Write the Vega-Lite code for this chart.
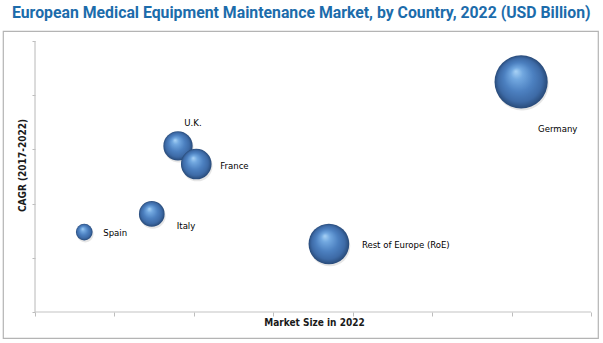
{
  "$schema": "https://vega.github.io/schema/vega-lite/v6.json",
  "width": 595,
  "height": 307,
  "autosize": {"type": "none"},
  "padding": {"left": 3, "top": 31, "right": 5, "bottom": 5},
  "background": "white",
  "config": {
    "view": {"stroke": "#b4b4b4", "strokeWidth": 1.2},
    "font": "DejaVu Sans Condensed, Roboto, sans-serif"
  },
  "title": {
    "text": "European Medical Equipment Maintenance Market, by Country, 2022 (USD Billion)",
    "anchor": "start",
    "font": "Roboto",
    "fontSize": 15.8,
    "fontWeight": "bold",
    "color": "#1c6cab",
    "dx": 9,
    "offset": 9
  },
  "data": {
    "values": [
      {"country": "Spain", "marketSize": 0.62, "cagr": 2.95, "value": 0.28},
      {"country": "Italy", "marketSize": 1.47, "cagr": 3.62, "value": 0.66},
      {"country": "U.K.", "marketSize": 1.8, "cagr": 6.13, "value": 0.86},
      {"country": "France", "marketSize": 2.03, "cagr": 5.46, "value": 0.94},
      {"country": "Rest of Europe (RoE)", "marketSize": 3.7, "cagr": 2.51, "value": 1.66},
      {"country": "Germany", "marketSize": 6.12, "cagr": 8.49, "value": 2.83}
    ]
  },
  "layer": [
    {
      "mark": {"type": "circle", "opacity": 0.15, "color": "#555555", "yOffset": 2, "xOffset": 1},
      "encoding": {
        "x": {
          "field": "marketSize",
          "type": "quantitative",
          "scale": {"domain": [-0.403, 7.088], "nice": false, "zero": false},
          "axis": {
            "title": "Market Size in 2022",
            "values": [0, 1, 2, 3, 4, 5, 6, 7],
            "offset": -26,
            "domain": false,
            "grid": false,
            "labels": false,
            "ticks": true,
            "tickSize": 4,
            "tickColor": "#bdbdbd",
            "titleFont": "DejaVu Sans Condensed, Roboto, sans-serif",
            "titleFontSize": 10,
            "titleFontWeight": "bold",
            "titleColor": "#1a1a1a",
            "titleX": 311,
            "titleY": 5,
            "titleBaseline": "top",
            "titleAlign": "center"
          }
        },
        "y": {
          "field": "cagr",
          "type": "quantitative",
          "scale": {"domain": [-0.959, 10.369], "nice": false, "zero": false},
          "axis": {
            "title": "CAGR (2017-2022)",
            "values": [0, 1, 2, 3, 4, 5, 6, 7, 8, 9, 10],
            "offset": -32,
            "domain": false,
            "grid": false,
            "labels": false,
            "ticks": true,
            "tickSize": 3,
            "tickColor": "#bdbdbd",
            "titleFont": "DejaVu Sans Condensed, Roboto, sans-serif",
            "titleFontSize": 10,
            "titleFontWeight": "bold",
            "titleColor": "#1a1a1a",
            "titleX": -12.5,
            "titleY": 134,
            "titleAngle": -90,
            "titleBaseline": "middle",
            "titleAlign": "center"
          }
        },
        "size": {"field": "value", "type": "quantitative", "scale": {"domain": [0, 2.83], "range": [0, 2827], "zero": true}, "legend": null}
      }
    },
    {
      "data": {"values": [{"x0": 0, "x1": 7, "y0": 0, "y1": 0}, {"x0": 0, "x1": 0, "y0": 0, "y1": 10}]},
      "mark": {"type": "rule", "color": "#c4c4c4", "strokeWidth": 1.2},
      "encoding": {
        "x": {"field": "x0", "type": "quantitative"},
        "x2": {"field": "x1"},
        "y": {"field": "y0", "type": "quantitative"},
        "y2": {"field": "y1"}
      }
    },
    {
      "mark": {
        "type": "circle",
        "opacity": 1,
        "color": {
          "gradient": "radial",
          "x1": 0.4, "y1": 0.3, "r1": 0,
          "x2": 0.5, "y2": 0.5, "r2": 0.5,
          "stops": [
            {"offset": 0, "color": "#a9d3f6"},
            {"offset": 0.22, "color": "#72a8e0"},
            {"offset": 0.55, "color": "#4c80c0"},
            {"offset": 0.82, "color": "#3d6aa6"},
            {"offset": 1, "color": "#284a78"}
          ]
        }
      },
      "encoding": {
        "x": {"field": "marketSize", "type": "quantitative"},
        "y": {"field": "cagr", "type": "quantitative"},
        "size": {"field": "value", "type": "quantitative", "legend": null}
      }
    },
    {
      "transform": [{"filter": "datum.country === 'U.K.'"}],
      "mark": {"type": "text", "align": "center", "dx": 15, "dy": -23, "fontSize": 9.5, "color": "#000000"},
      "encoding": {"x": {"field": "marketSize", "type": "quantitative"}, "y": {"field": "cagr", "type": "quantitative"}, "text": {"field": "country"}}
    },
    {
      "transform": [{"filter": "datum.country === 'France'"}],
      "mark": {"type": "text", "align": "left", "dx": 24, "dy": 2, "fontSize": 9.5, "color": "#000000"},
      "encoding": {"x": {"field": "marketSize", "type": "quantitative"}, "y": {"field": "cagr", "type": "quantitative"}, "text": {"field": "country"}}
    },
    {
      "transform": [{"filter": "datum.country === 'Italy'"}],
      "mark": {"type": "text", "align": "left", "dx": 25, "dy": 12, "fontSize": 9.5, "color": "#000000"},
      "encoding": {"x": {"field": "marketSize", "type": "quantitative"}, "y": {"field": "cagr", "type": "quantitative"}, "text": {"field": "country"}}
    },
    {
      "transform": [{"filter": "datum.country === 'Spain'"}],
      "mark": {"type": "text", "align": "left", "dx": 19, "dy": 1, "fontSize": 9.5, "color": "#000000"},
      "encoding": {"x": {"field": "marketSize", "type": "quantitative"}, "y": {"field": "cagr", "type": "quantitative"}, "text": {"field": "country"}}
    },
    {
      "transform": [{"filter": "datum.country === 'Rest of Europe (RoE)'"}],
      "mark": {"type": "text", "align": "left", "dx": 33, "dy": 1, "fontSize": 9.5, "color": "#000000"},
      "encoding": {"x": {"field": "marketSize", "type": "quantitative"}, "y": {"field": "cagr", "type": "quantitative"}, "text": {"field": "country"}}
    },
    {
      "transform": [{"filter": "datum.country === 'Germany'"}],
      "mark": {"type": "text", "align": "left", "dx": 17, "dy": 47, "fontSize": 9.5, "color": "#000000"},
      "encoding": {"x": {"field": "marketSize", "type": "quantitative"}, "y": {"field": "cagr", "type": "quantitative"}, "text": {"field": "country"}}
    }
  ]
}
